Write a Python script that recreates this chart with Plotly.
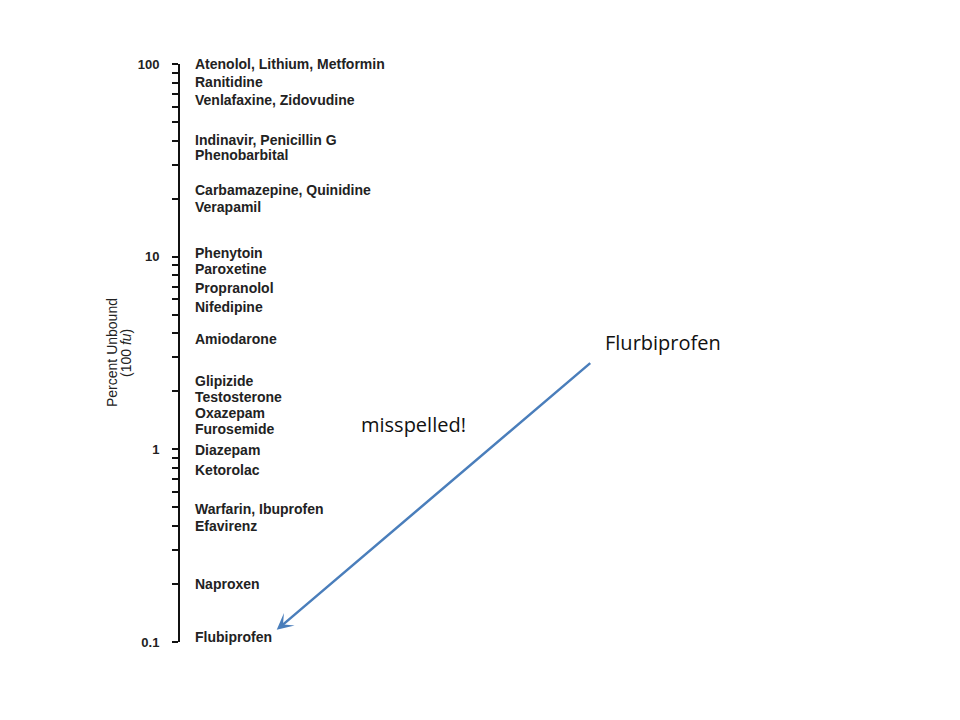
import math
import plotly.graph_objects as go

# ---- data ----
drug_labels = [
    "Atenolol, Lithium, Metformin", "Ranitidine", "Venlafaxine, Zidovudine",
    "Indinavir, Penicillin G", "Phenobarbital", "Carbamazepine, Quinidine",
    "Verapamil", "Phenytoin", "Paroxetine", "Propranolol", "Nifedipine",
    "Amiodarone", "Glipizide", "Testosterone", "Oxazepam", "Furosemide",
    "Diazepam", "Ketorolac", "Warfarin, Ibuprofen", "Efavirenz", "Naproxen",
    "Flubiprofen",
]
percent_unbound = [
    100, 81, 65, 40.5, 33.6, 22.1, 18.2, 10.5, 8.6, 6.9, 5.5,
    3.75, 2.27, 1.88, 1.54, 1.27, 0.99, 0.78, 0.49, 0.40, 0.20, 0.106,
]
major_ticks = [0.1, 1, 10, 100]
major_tick_text = ["0.1", "1", "10", "100"]
minor_ticks = [m * d for d in (0.1, 1, 10) for m in range(2, 10)]

fig = go.Figure()

fig.add_trace(go.Scatter(
    x=[0] * len(percent_unbound), y=percent_unbound, mode="markers",
    marker=dict(size=1, color="rgba(0,0,0,0)"), hoverinfo="skip", showlegend=False,
))

annotations = []
for lab, v in zip(drug_labels, percent_unbound):
    annotations.append(dict(
        x=0, y=math.log10(v), xref="x", yref="y", text="<b>%s</b>" % lab,
        showarrow=False, xanchor="left", yanchor="middle", xshift=13,
        font=dict(family="Liberation Sans, Arial", size=14, color="#222222"),
    ))

# axis title (two lines)
annotations.append(dict(
    x=0, y=0.5, xref="paper", yref="paper", text="Percent Unbound",
    showarrow=False, textangle=-90, xanchor="center", yanchor="middle", xshift=-68,
    font=dict(family="Liberation Sans, Arial", size=14, color="#222222"),
))
annotations.append(dict(
    x=0, y=0.5, xref="paper", yref="paper", text="(100 <i>fu</i>)",
    showarrow=False, textangle=-90, xanchor="center", yanchor="middle", xshift=-54,
    font=dict(family="Liberation Sans, Arial", size=14, color="#222222"),
))

# callout texts
annotations.append(dict(
    x=0.619, y=0.518, xref="paper", yref="paper", text="Flurbiprofen",
    showarrow=False, xanchor="center", yanchor="middle",
    font=dict(family="Open Sans", size=20, color="#111111"),
))
annotations.append(dict(
    x=0.299, y=0.376, xref="paper", yref="paper", text="misspelled!",
    showarrow=False, xanchor="center", yanchor="middle",
    font=dict(family="Open Sans", size=20, color="#111111"),
))
# arrow
annotations.append(dict(
    x=0.124, y=0.021, xref="paper", yref="paper", text="",
    showarrow=True, ax=315, ay=-268, axref="pixel", ayref="pixel",
    arrowhead=3, arrowsize=1.1, arrowwidth=2.5, arrowcolor="#4a7ebb",
))

fig.update_layout(
    width=960, height=720,
    margin=dict(l=172, r=8, t=56, b=86),
    paper_bgcolor="white", plot_bgcolor="white",
    showlegend=False,
    annotations=annotations,
    xaxis=dict(range=[0, 1], visible=False, fixedrange=True),
    yaxis=dict(
        type="log", range=[-1, 2],
        showline=True, linewidth=2, linecolor="#111111",
        showgrid=False, zeroline=False,
        ticks="outside", ticklen=6, tickwidth=2, tickcolor="#111111",
        tickvals=major_ticks + minor_ticks,
        ticktext=major_tick_text + [""] * len(minor_ticks),
        tickfont=dict(family="Liberation Sans, Arial", size=13, color="#222222", weight="bold"),
        ticklabelstandoff=10,
    ),
)

fig.write_html("out.html")
